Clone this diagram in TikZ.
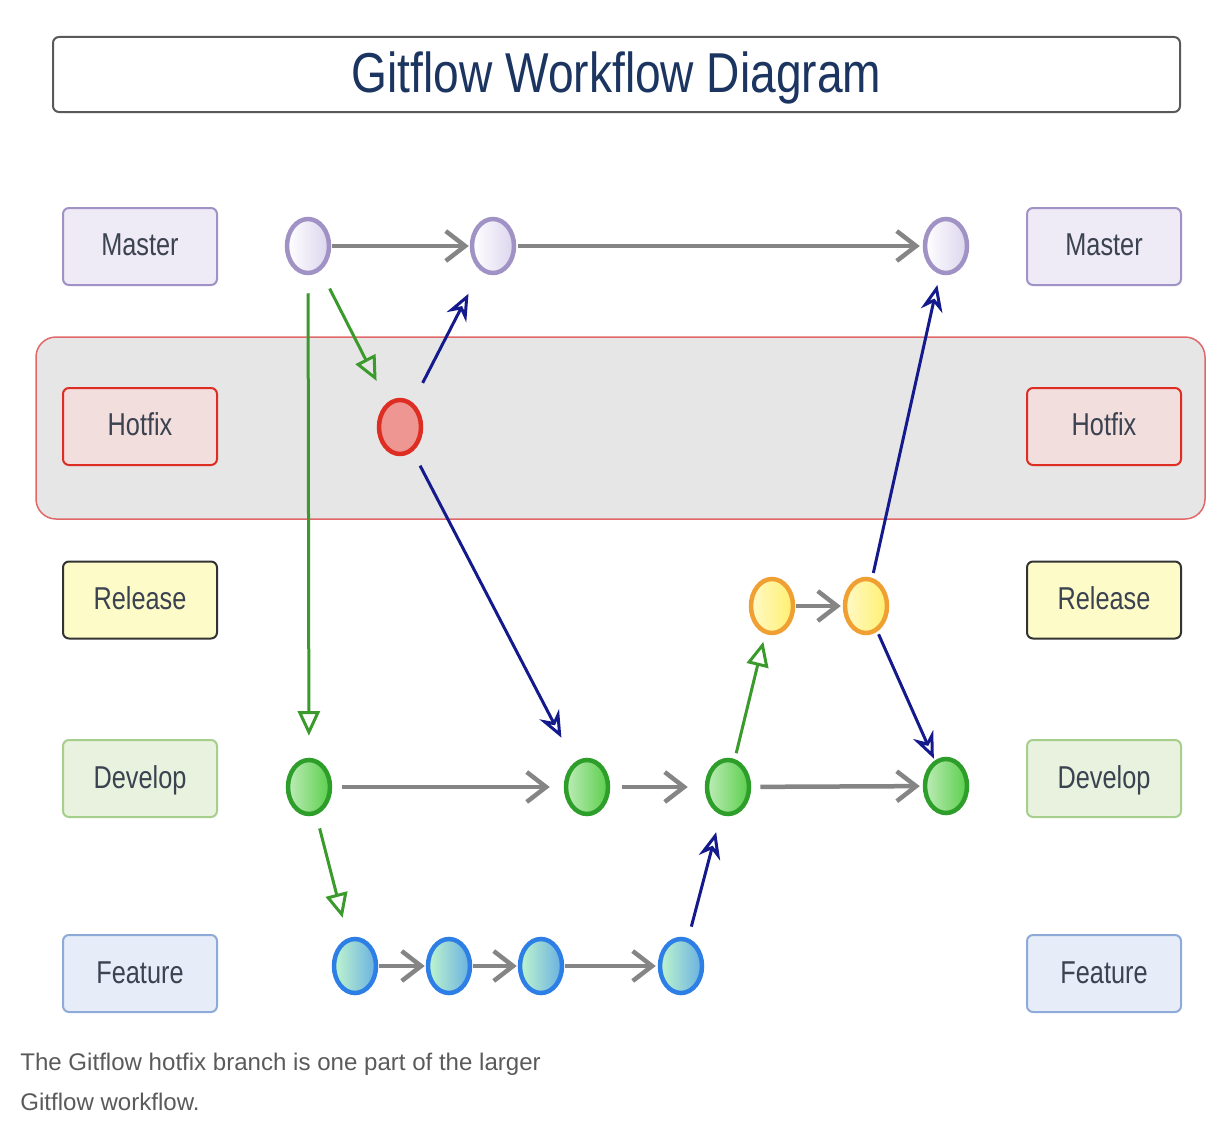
\documentclass[tikz,border=0pt]{standalone}
\usepackage{fontspec}
\setmainfont{Liberation Sans}
\newfontfamily\narrowsans[FakeStretch=0.8]{Liberation Sans}
\newfontfamily\titlesans[FakeStretch=0.82]{Liberation Sans}
\usepackage{xcolor}
\usepackage{tikz}
\usetikzlibrary{shapes.geometric,arrows.meta}

\newlength{\pxu}
\setlength{\pxu}{0.02cm}

\definecolor{titleblue}{HTML}{1B3560}
\definecolor{labeltext}{HTML}{3B4250}
\definecolor{captiongray}{HTML}{5A5A5A}
\definecolor{mastline}{HTML}{A092C4}
\definecolor{mastfill}{HTML}{DCD5EE}
\definecolor{mastbox}{HTML}{EEEAF6}
\definecolor{hotline}{HTML}{DE2E24}
\definecolor{hotfill}{HTML}{EE9692}
\definecolor{hotbox}{HTML}{F3DEDE}
\definecolor{bandfill}{HTML}{E6E6E6}
\definecolor{bandline}{HTML}{E06868}
\definecolor{relline}{HTML}{F0A032}
\definecolor{relfill}{HTML}{FFF070}
\definecolor{relbox}{HTML}{FDFBC8}
\definecolor{devline}{HTML}{2E9E2A}
\definecolor{devfill}{HTML}{5BCF4C}
\definecolor{devbox}{HTML}{E8F2DE}
\definecolor{devboxline}{HTML}{A6CF8E}
\definecolor{featline}{HTML}{2D7FE6}
\definecolor{featfill}{HTML}{6AB0E0}
\definecolor{featbox}{HTML}{E6EDF8}
\definecolor{featboxline}{HTML}{8EAAD8}
\definecolor{flowgray}{HTML}{858585}
\definecolor{branchgreen}{HTML}{3A9A2C}
\definecolor{mergenavy}{HTML}{141A8C}

\begin{document}
\begin{tikzpicture}[x=0.02cm,y=-0.02cm,
		titlebox/.style={draw=black!65, line width=2\pxu, rounded corners=6\pxu, fill=white,
			minimum width=1127\pxu, minimum height=75\pxu, text=titleblue, text height=24pt, text depth=3.6pt,
			font=\titlesans\fontsize{32}{36}\selectfont},
		band/.style={draw=bandline, line width=1.5\pxu, fill=bandfill, rounded corners=20\pxu,
			minimum width=1169\pxu, minimum height=182\pxu},
		lbl/.style={line width=2\pxu, rounded corners=6\pxu, minimum width=154\pxu,
			minimum height=77\pxu, inner sep=0pt, text=labeltext, text height=11.4pt, text depth=0.6pt,
			font=\narrowsans\fontsize{18}{20}\selectfont},
		masterbox/.style={lbl, draw=mastline, fill=mastbox},
		hotfixbox/.style={lbl, draw=hotline, fill=hotbox},
		releasebox/.style={lbl, draw=black!80, fill=relbox},
		developbox/.style={lbl, draw=devboxline, fill=devbox},
		featurebox/.style={lbl, draw=featboxline, fill=featbox},
		commit/.style={ellipse, line width=4.5\pxu, minimum width=42\pxu, minimum height=54\pxu, inner sep=0pt},
		mastcommit/.style={commit, draw=mastline, left color=white, right color=mastfill},
		hotcommit/.style={commit, draw=hotline, fill=hotfill},
		relcommit/.style={commit, draw=relline, left color=relfill!40, right color=relfill},
		devcommit/.style={commit, draw=devline, left color=devfill!40, right color=devfill},
		featcommit/.style={commit, draw=featline, left color=featfill!40!green!30!white, right color=featfill},
		flow/.style={draw=flowgray, line width=4.5\pxu, -{Straight Barb[length=11pt,width=17pt]}},
		branch/.style={draw=branchgreen, line width=3\pxu, -{Triangle[open,length=14pt,width=12.5pt]}},
		merge/.style={draw=mergenavy, line width=3\pxu, -{Stealth[open,length=15pt,width=12.5pt]}},
		caption/.style={anchor=base west, inner sep=0pt, text=captiongray, font=\fontsize{13.7}{16}\selectfont}
	]
	\useasboundingbox (0,0) rectangle (1226,1132);

	\node[titlebox] (title) at (616.5,74.5) {Gitflow Workflow Diagram};
	\node[band] (hotfixband) at (620.5,428) {};

	\node[masterbox] (masterL) at (140,246.5) {Master};
	\node[hotfixbox] (hotfixL) at (140,426.5) {Hotfix};
	\node[releasebox] (releaseL) at (140,600) {Release};
	\node[developbox] (developL) at (140,778.5) {Develop};
	\node[featurebox] (featureL) at (140,973.5) {Feature};

	\node[masterbox] (masterR) at (1104,246.5) {Master};
	\node[hotfixbox] (hotfixR) at (1104,426.5) {Hotfix};
	\node[releasebox] (releaseR) at (1104,600) {Release};
	\node[developbox] (developR) at (1104,778.5) {Develop};
	\node[featurebox] (featureR) at (1104,973.5) {Feature};

	\node[mastcommit] (m1) at (308,246) {};
	\node[mastcommit] (m2) at (493,246) {};
	\node[mastcommit] (m3) at (946,246) {};
	\node[hotcommit] (h1) at (400,427) {};
	\node[relcommit] (r1) at (772,606) {};
	\node[relcommit] (r2) at (866,606) {};
	\node[devcommit] (d1) at (309,787) {};
	\node[devcommit] (d2) at (587,787) {};
	\node[devcommit] (d3) at (728,787) {};
	\node[devcommit] (d4) at (946,786) {};
	\node[featcommit] (f1) at (355,966) {};
	\node[featcommit] (f2) at (449,966) {};
	\node[featcommit] (f3) at (541,966) {};
	\node[featcommit] (f4) at (681,966) {};

	\draw[flow, shorten <=1\pxu, shorten >=1\pxu] (m1) -- (m2);
	\draw[flow, shorten <=2\pxu, shorten >=3\pxu] (m2) -- (m3);
	\draw[flow, shorten <=1\pxu, shorten >=2\pxu] (r1) -- (r2);
	\draw[flow, shorten <=10\pxu, shorten >=14\pxu] (d1) -- (d2);
	\draw[flow, shorten <=12\pxu, shorten >=17\pxu] (d2) -- (d3);
	\draw[flow, shorten <=9\pxu, shorten >=3\pxu] (d3) -- (d4);
	\draw[flow, shorten <=1\pxu, shorten >=1\pxu] (f1) -- (f2);
	\draw[flow, shorten <=1\pxu, shorten >=1\pxu] (f2) -- (f3);
	\draw[flow, shorten <=1\pxu, shorten >=2\pxu] (f3) -- (f4);

	\draw[branch, shorten <=20\pxu, shorten >=24\pxu] (m1) -- (h1);
	\draw[branch, shorten <=18\pxu, shorten >=22\pxu] (m1) -- (d1);
	\draw[branch, shorten <=14\pxu, shorten >=21\pxu] (d1) -- (f1);
	\draw[branch, shorten <=6\pxu, shorten >=8\pxu] (d3) -- (r1);

	\draw[merge, shorten <=22\pxu, shorten >=26\pxu] (h1) -- (m2);
	\draw[merge, shorten <=16\pxu, shorten >=28\pxu] (h1) -- (d2);
	\draw[merge, shorten <=12\pxu, shorten >=18\pxu] (f4) -- (d3);
	\draw[merge, shorten <=5\pxu, shorten >=11\pxu] (r2) -- (m3);
	\draw[merge, shorten <=3\pxu, shorten >=2\pxu] (r2) -- (d4);

	\node[caption] (capline1) at (20,1070) {The Gitflow hotfix branch is one part of the larger};
	\node[caption] (capline2) at (20,1110) {Gitflow workflow.};
\end{tikzpicture}
\end{document}
